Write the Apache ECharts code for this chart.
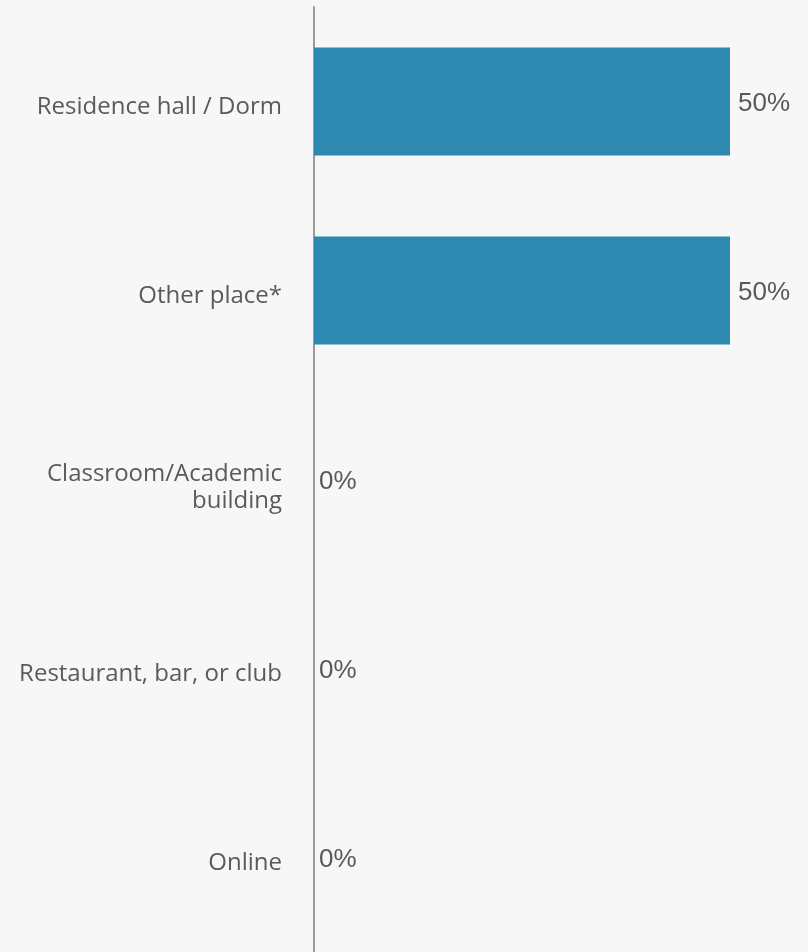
<!DOCTYPE html>
<html>
<head>
<meta charset="utf-8">
<style>
  html, body { margin: 0; padding: 0; background: #f7f7f7; }
  #chart { width: 808px; height: 952px; }
</style>
<script src="https://cdn.jsdelivr.net/npm/echarts@6/dist/echarts.min.js"></script>
</head>
<body>
<div id="chart"></div>
<script>
const categories = [
  'Residence hall / Dorm',
  'Other place*',
  'Classroom/Academic\nbuilding',
  'Restaurant, bar, or club',
  'Online'
];
const values = [50, 50, 0, 0, 0];

const catFont = {
  fontFamily: '"Open Sans", "Noto Sans", sans-serif',
  fontSize: 24,
  lineHeight: 27,
  color: '#5a5a5a'
};

const chart = echarts.init(document.getElementById('chart'), null, { renderer: 'canvas' });
chart.setOption({
  backgroundColor: '#f7f7f7',
  animation: false,
  grid: { left: 314, top: 7, width: 416, height: 950, containLabel: false },
  xAxis: { type: 'value', min: 0, max: 50, show: false },
  yAxis: {
    type: 'category',
    inverse: true,
    data: categories,
    axisLine: { show: true, lineStyle: { color: '#9a9a9a', width: 2 } },
    axisTick: { show: false },
    splitLine: { show: false },
    axisLabel: {
      margin: 32,
      align: 'right',
      ...catFont,
      formatter: v => {
        const lines = v.split('\n');
        const spacer = lines.length > 1 ? '{s2| }' : '{s1| }';
        return spacer + '\n' + lines.map(l => '{t|' + l + '}').join('\n');
      },
      rich: {
        s1: { fontSize: 1, lineHeight: 12 },
        s2: { fontSize: 1, lineHeight: 16 },
        t: { ...catFont, align: 'right' }
      }
    }
  },
  series: [{
    type: 'bar',
    barWidth: 108,
    itemStyle: { color: '#2e89b0' },
    data: values.map(v => ({
      value: v,
      label: { distance: v > 0 ? 8 : 5 }
    })),
    label: {
      show: true,
      position: 'right',
      offset: [0, 2],
      formatter: '{c}%',
      color: '#595959',
      fontFamily: '"Liberation Sans", Arial, Helvetica, sans-serif',
      fontSize: 26
    }
  }]
});
</script>
</body>
</html>
